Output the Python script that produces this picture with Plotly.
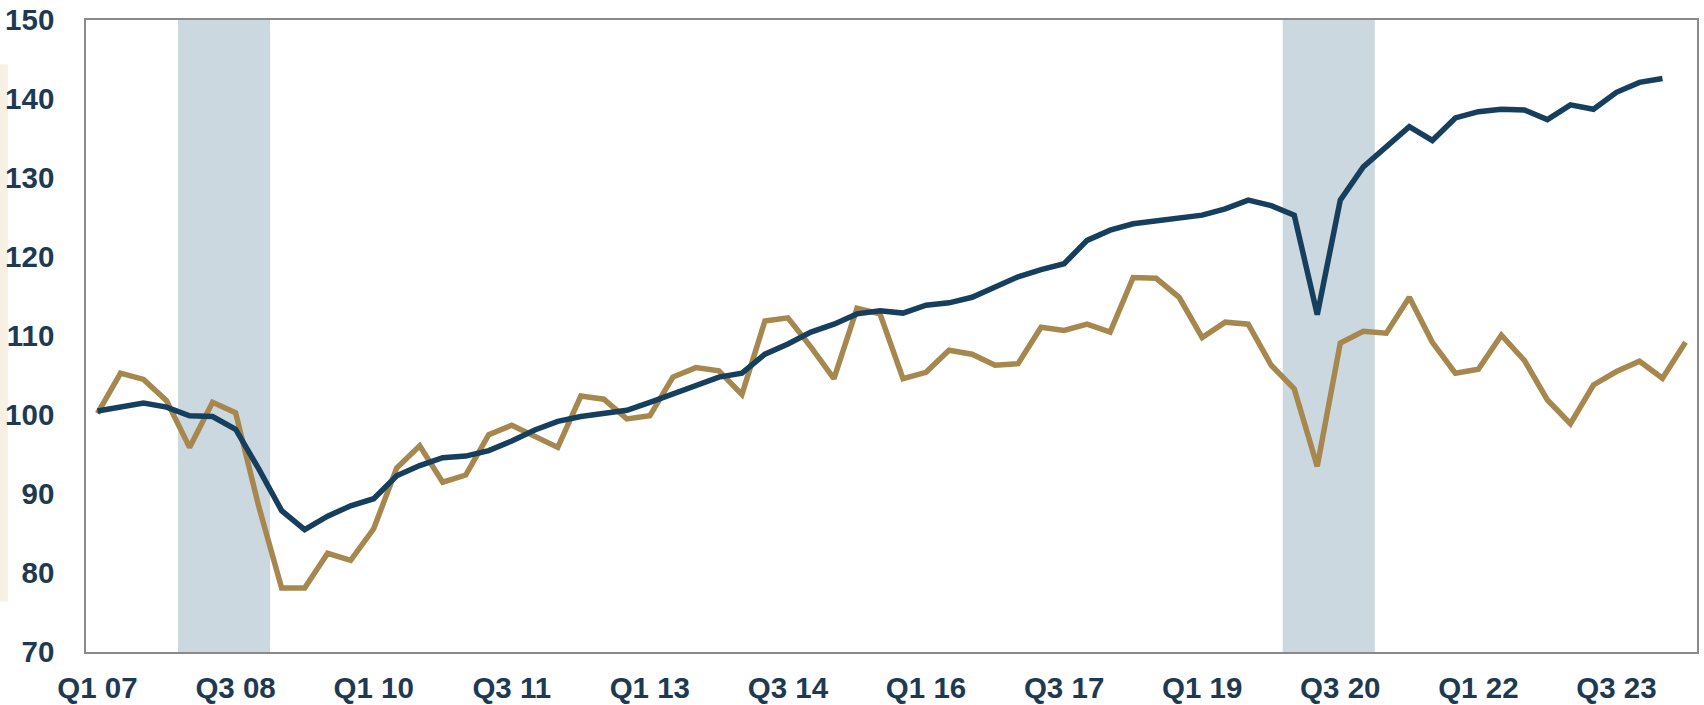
import plotly.graph_objects as go

# Quarter labels Q1 07 ... Q2 24
years = list(range(7, 25))
quarters = [f"Q{q} {y:02d}" for y in years for q in (1, 2, 3, 4)][:70]

blue_vals = [
    100.5, 101.0, 101.5, 101.0, 99.9, 99.8, 98.2, 93.2, 87.9, 85.5,
    87.2, 88.5, 89.4, 92.3, 93.6, 94.6, 94.8, 95.5, 96.7, 98.1,
    99.2, 99.8, 100.2, 100.6, 101.6, 102.7, 103.7, 104.8, 105.3, 107.7,
    109.0, 110.5, 111.5, 112.8, 113.2, 112.9, 113.9, 114.2, 114.9, 116.2,
    117.5, 118.4, 119.15, 122.1, 123.4, 124.2, 124.55, 124.85, 125.3, 126.1,
    127.2, 126.5, 125.3, 112.7, 127.2, 131.4, 134.0, 136.5, 134.75, 137.6,
    138.4, 138.7, 138.6, 137.4, 139.25, 138.7, 140.85, 142.1, 142.6,
]

gold_vals = [
    100.2, 105.3, 104.5, 101.8, 95.9, 101.6, 100.3, 88.5, 78.1, 78.1,
    82.5, 81.6, 85.6, 93.3, 96.1, 91.5, 92.4, 97.5, 98.7, 97.3,
    95.9, 102.4, 102.0, 99.5, 99.9, 104.8, 106.0, 105.6, 102.6, 111.9,
    112.3, 108.6, 104.6, 113.5, 112.8, 104.6, 105.4, 108.2, 107.7, 106.3,
    106.5, 111.1, 110.7, 111.5, 110.5, 117.4, 117.3, 114.9, 109.8, 111.75,
    111.5, 106.3, 103.3, 93.5, 109.1, 110.6, 110.35, 114.9, 109.2, 105.3,
    105.8, 110.1, 106.9, 101.9, 98.9, 103.8, 105.5, 106.8, 104.65, 109.2,
]

tick_labels = ["Q1 07", "Q3 08", "Q1 10", "Q3 11", "Q1 13", "Q3 14",
               "Q1 16", "Q3 17", "Q1 19", "Q3 20", "Q1 22", "Q3 23"]

# recession shading (first and last quarter shaded)
recessions = [("Q1 08", "Q4 08"), ("Q1 20", "Q4 20")]

BLUE = "#163f5e"
GOLD = "#a6884e"
BAND = "#ccd8df"
TEXT = "#1e3a52"

fig = go.Figure()
fig.add_trace(go.Scatter(x=quarters[:len(gold_vals)], y=gold_vals, mode="lines",
                         line=dict(color=GOLD, width=5.5), showlegend=False))
fig.add_trace(go.Scatter(x=quarters[:len(blue_vals)], y=blue_vals, mode="lines",
                         line=dict(color=BLUE, width=5.5), showlegend=False))

for a, b in recessions:
    fig.add_shape(type="rect", xref="x", yref="paper",
                  x0=quarters.index(a) - 0.5, x1=quarters.index(b) + 0.5,
                  y0=0, y1=1, fillcolor=BAND, line_width=0, layer="below")

# faint cream strip at far left
fig.add_shape(type="rect", xref="paper", yref="paper", x0=-0.0535, x1=-0.0485,
              y0=0.08, y1=0.93, fillcolor="#f7f0e3", line_width=0, layer="below")

fig.update_layout(
    width=1704, height=705,
    margin=dict(l=86, r=7, t=20, b=53),
    paper_bgcolor="white", plot_bgcolor="white",
    font=dict(family="Arial, Liberation Sans, sans-serif", color=TEXT),
)
fig.update_xaxes(
    type="category", categoryorder="array", categoryarray=quarters,
    range=[-0.5, len(quarters) - 0.5],
    tickmode="array", tickvals=tick_labels, ticktext=tick_labels,
    tickfont=dict(size=29.5, weight="bold", color=TEXT),
    showgrid=False, zeroline=False, ticks="",
    showline=True, linecolor="#8a8a8a", linewidth=1.5, mirror=True,
    ticklabelstandoff=9, automargin=False,
)
fig.update_yaxes(
    range=[70, 150], dtick=10, tick0=70,
    tickfont=dict(size=29.5, weight="bold", color=TEXT),
    showgrid=False, zeroline=False, ticks="",
    showline=True, linecolor="#8a8a8a", linewidth=1.5, mirror=True,
    ticklabelstandoff=24, automargin=False,
)

fig.write_html(
    "out.html",
    config={"displayModeBar": False},
    post_script="document.body.style.margin='0';document.body.style.overflow='hidden';",
)
